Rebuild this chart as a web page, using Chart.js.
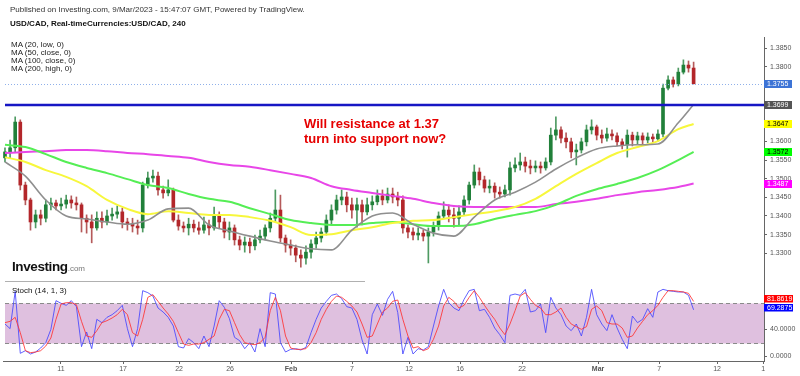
<!DOCTYPE html>
<html><head><meta charset="utf-8">
<script src="https://cdn.jsdelivr.net/npm/chart.js@4.4.0/dist/chart.umd.min.js"></script>
<style>
html,body{margin:0;padding:0;background:#fff;}
#wrap{position:relative;width:800px;height:376px;overflow:hidden;font-family:"Liberation Sans",Arial,sans-serif;}
canvas{position:absolute;left:0;}
#cA{top:0;} #cB{top:282px;}
.t{position:absolute;white-space:nowrap;color:#222;}
</style></head><body>
<div id="wrap">
<canvas id="cA" width="800" height="282"></canvas>
<canvas id="cB" width="800" height="94"></canvas>
<div class="t" style="left:10px;top:6px;font-size:8px;line-height:8px;color:#333;">Published on Investing.com, 9/Mar/2023 - 15:47:07 GMT, Powered by TradingView.</div>
<div class="t" style="left:10px;top:20px;font-size:8px;line-height:8px;font-weight:bold;color:#111;">USD/CAD, Real-timeCurrencies:USD/CAD, 240</div>
<div class="t" style="left:11px;top:41px;font-size:8px;line-height:8px;color:#222;">MA (20, low, 0)<br>MA (50, close, 0)<br>MA (100, close, 0)<br>MA (200, high, 0)</div>
<div class="t" style="left:304px;top:116px;font-size:13px;line-height:15px;font-weight:bold;color:#e60000;">Will resistance at 1.37<br>turn into support now?</div>
<div class="t" style="left:12px;top:260px;font-size:13.5px;line-height:14px;font-weight:bold;color:#111;letter-spacing:-0.4px;">Investing<span style="font-size:8px;font-weight:normal;color:#777;letter-spacing:0;">.com</span></div>
<div class="t" style="left:12px;top:287px;font-size:8px;line-height:8px;color:#111;">Stoch (14, 1, 3)</div>
</div>
<script>
const FONT = '"Liberation Sans", Arial, sans-serif';

const openP = [
1.3556,1.3572,1.3583,1.3652,1.3483,1.3443,1.3384,1.3403,1.3394,1.3430,
1.3435,1.3427,1.3432,1.3443,1.3435,1.3430,1.3394,1.3384,1.3368,1.3394,
1.3384,1.3400,1.3405,1.3411,1.3384,1.3378,1.3373,1.3368,1.3483,1.3502,
1.3507,1.3470,1.3462,1.3470,1.3389,1.3373,1.3368,1.3378,1.3368,1.3362,
1.3376,1.3368,1.3403,1.3384,1.3357,1.3368,1.3336,1.3322,1.3330,1.3320,
1.3336,1.3346,1.3368,1.3394,1.3416,1.3341,1.3322,1.3314,1.3295,1.3287,
1.3303,1.3325,1.3341,1.3357,1.3389,1.3416,1.3443,1.3451,1.3430,1.3416,
1.3430,1.3411,1.3430,1.3438,1.3454,1.3443,1.3459,1.3451,1.3443,1.3368,
1.3357,1.3349,1.3354,1.3346,1.3357,1.3373,1.3400,1.3416,1.3403,1.3394,
1.3411,1.3443,1.3483,1.3518,1.3497,1.3475,1.3480,1.3464,1.3459,1.3470,
1.3529,1.3537,1.3545,1.3534,1.3529,1.3534,1.3529,1.3545,1.3617,1.3631,
1.3609,1.3599,1.3572,1.3577,1.3599,1.3631,1.3639,1.3617,1.3609,1.3620,
1.3615,1.3599,1.3591,1.3617,1.3604,1.3615,1.3604,1.3612,1.3607,1.3620,
1.3743,1.3765,1.3754,1.3786,1.3805,1.3797];
const highP = [
1.3583,1.3604,1.3666,1.3658,1.3491,1.3448,1.3416,1.3416,1.3443,1.3448,
1.3443,1.3448,1.3456,1.3454,1.3451,1.3435,1.3403,1.3403,1.3411,1.3411,
1.3416,1.3421,1.3427,1.3421,1.3394,1.3394,1.3389,1.3491,1.3518,1.3523,
1.3518,1.3480,1.3497,1.3475,1.3403,1.3384,1.3394,1.3389,1.3384,1.3397,
1.3389,1.3424,1.3411,1.3394,1.3384,1.3376,1.3346,1.3344,1.3341,1.3349,
1.3362,1.3376,1.3408,1.3470,1.3456,1.3349,1.3336,1.3322,1.3309,1.3320,
1.3336,1.3357,1.3368,1.3403,1.3430,1.3456,1.3470,1.3464,1.3448,1.3448,
1.3443,1.3448,1.3454,1.3470,1.3470,1.3475,1.3475,1.3464,1.3454,1.3376,
1.3368,1.3368,1.3362,1.3368,1.3384,1.3411,1.3438,1.3430,1.3421,1.3427,
1.3454,1.3491,1.3537,1.3529,1.3507,1.3497,1.3489,1.3478,1.3483,1.3545,
1.3556,1.3569,1.3558,1.3550,1.3548,1.3545,1.3556,1.3636,1.3666,1.3639,
1.3623,1.3609,1.3593,1.3609,1.3644,1.3658,1.3644,1.3631,1.3636,1.3631,
1.3623,1.3607,1.3631,1.3625,1.3625,1.3623,1.3623,1.3620,1.3631,1.3754,
1.3776,1.3773,1.3797,1.3819,1.3816,1.3813];
const lowP = [
1.3545,1.3556,1.3572,1.3470,1.3430,1.3362,1.3368,1.3376,1.3384,1.3416,
1.3416,1.3416,1.3421,1.3421,1.3416,1.3357,1.3354,1.3328,1.3362,1.3368,
1.3376,1.3389,1.3394,1.3368,1.3362,1.3357,1.3351,1.3357,1.3475,1.3491,
1.3456,1.3448,1.3454,1.3384,1.3362,1.3357,1.3349,1.3357,1.3351,1.3354,
1.3349,1.3362,1.3368,1.3341,1.3336,1.3322,1.3309,1.3303,1.3301,1.3309,
1.3328,1.3336,1.3357,1.3384,1.3330,1.3303,1.3295,1.3277,1.3263,1.3271,
1.3287,1.3314,1.3330,1.3349,1.3376,1.3405,1.3430,1.3411,1.3394,1.3370,
1.3376,1.3403,1.3416,1.3430,1.3430,1.3435,1.3435,1.3427,1.3354,1.3341,
1.3336,1.3336,1.3333,1.3274,1.3346,1.3362,1.3394,1.3384,1.3370,1.3376,
1.3403,1.3432,1.3475,1.3483,1.3464,1.3462,1.3448,1.3448,1.3451,1.3456,
1.3518,1.3523,1.3518,1.3513,1.3518,1.3515,1.3523,1.3537,1.3604,1.3596,
1.3583,1.3556,1.3537,1.3569,1.3588,1.3620,1.3604,1.3596,1.3601,1.3604,
1.3588,1.3580,1.3558,1.3588,1.3593,1.3591,1.3596,1.3599,1.3601,1.3612,
1.3738,1.3746,1.3749,1.3781,1.3786,1.3754];
const closeP = [
1.3572,1.3583,1.3652,1.3483,1.3443,1.3384,1.3403,1.3394,1.3430,1.3435,
1.3427,1.3432,1.3443,1.3435,1.3430,1.3394,1.3384,1.3368,1.3394,1.3384,
1.3400,1.3405,1.3411,1.3384,1.3378,1.3373,1.3368,1.3483,1.3502,1.3507,
1.3470,1.3462,1.3470,1.3389,1.3373,1.3368,1.3378,1.3368,1.3362,1.3376,
1.3368,1.3403,1.3384,1.3357,1.3368,1.3336,1.3322,1.3330,1.3320,1.3336,
1.3346,1.3368,1.3394,1.3416,1.3341,1.3322,1.3314,1.3295,1.3287,1.3303,
1.3325,1.3341,1.3357,1.3389,1.3416,1.3443,1.3451,1.3430,1.3416,1.3430,
1.3411,1.3430,1.3438,1.3454,1.3443,1.3459,1.3451,1.3443,1.3368,1.3357,
1.3349,1.3354,1.3346,1.3357,1.3373,1.3400,1.3416,1.3403,1.3394,1.3411,
1.3443,1.3483,1.3518,1.3497,1.3475,1.3480,1.3464,1.3459,1.3470,1.3529,
1.3537,1.3545,1.3534,1.3529,1.3534,1.3529,1.3545,1.3617,1.3631,1.3609,
1.3599,1.3572,1.3577,1.3599,1.3631,1.3639,1.3617,1.3609,1.3620,1.3615,
1.3599,1.3591,1.3617,1.3604,1.3615,1.3604,1.3612,1.3607,1.3620,1.3743,
1.3765,1.3754,1.3786,1.3805,1.3797,1.3755];

// ---- moving averages, sampled at these candle positions ----
const maIdx = [0,4,8,12,16,20,24,28,32,36,40,44,48,52,56,60,64,68,72,76,80,84,88,92,96,100,104,108,112,116,120,124,128,132,135];
const ma20 = [1.3545,1.3507,1.3443,1.3400,1.3392,1.3384,1.3378,1.3389,1.3419,1.3421,1.3376,1.3360,1.3346,1.3333,1.3322,1.3312,1.3309,1.3362,1.3400,1.3408,1.3378,1.3354,1.3346,1.3397,1.3443,1.3464,1.3491,1.3526,1.3556,1.3580,1.3588,1.3591,1.3593,1.3650,1.3699];
const ma50 = [1.3558,1.3545,1.3523,1.3505,1.3480,1.3443,1.3419,1.3405,1.3413,1.3408,1.3403,1.3403,1.3397,1.3387,1.3370,1.3349,1.3351,1.3362,1.3370,1.3381,1.3387,1.3389,1.3397,1.3405,1.3413,1.3424,1.3446,1.3480,1.3513,1.3542,1.3569,1.3585,1.3601,1.3633,1.3647];
const ma100 = [1.3591,1.3585,1.3566,1.3545,1.3529,1.3515,1.3499,1.3483,1.3475,1.3459,1.3446,1.3438,1.3421,1.3405,1.3389,1.3381,1.3376,1.3376,1.3381,1.3384,1.3378,1.3373,1.3373,1.3378,1.3392,1.3403,1.3413,1.3430,1.3454,1.3472,1.3486,1.3502,1.3523,1.3550,1.3572];
const ma200 = [1.3569,1.3572,1.3574,1.3577,1.3577,1.3574,1.3569,1.3566,1.3561,1.3556,1.3545,1.3537,1.3532,1.3523,1.3513,1.3502,1.3480,1.3470,1.3462,1.3454,1.3446,1.3435,1.3427,1.3424,1.3424,1.3424,1.3424,1.3432,1.3438,1.3446,1.3456,1.3464,1.3470,1.3478,1.3487];

// ---- stochastic (14,1,3) ----
const stochK = [
48,41,97,4,8,3,6,12,20,40, 83,79,76,83,74,14,36,11,55,50,
58,62,68,76,41,14,41,98,95,90, 72,66,58,45,14,12,26,20,11,30,
14,45,83,73,56,28,23,11,20,6, 41,14,95,93,20,6,10,11,9,13,
35,55,72,82,91,93,86,74,72,55, 24,3,62,78,61,85,97,65,3,28,
3,11,9,14,45,75,100,80,72,68, 85,98,100,68,70,58,42,32,20,91,
93,91,100,66,68,78,35,88,72,62, 45,38,48,30,58,100,62,48,38,62,
42,25,11,60,50,55,71,58,96,100, 98,97,96,96,91,69.2875];
const stochD = [
50,52,58,35,8,5,6,8,15,27, 55,78,80,80,77,52,30,28,38,50,
53,57,62,70,62,35,30,55,88,92, 82,72,63,52,35,18,16,18,18,20,
25,30,55,70,68,50,32,20,18,17, 20,28,68,88,68,30,12,10,10,11,
20,35,55,70,82,90,88,82,75,66, 48,28,30,48,66,72,82,84,55,30,
12,14,8,11,25,45,75,88,82,72, 76,88,98,88,76,65,55,42,32,48,
68,90,95,85,76,72,62,62,66,72, 58,48,44,40,44,70,75,68,50,48,
48,42,28,30,42,52,62,68,76,88, 98,98,97,96,94,81.8619];

// ---- axes / labels ----
const xTickPos = [10.98,23.14,34.12,44.12,56.08,68.04,79.22,89.22,101.37,116.27,128.24,139.61,148.63];
const xTickLabels = ['11','17','22','26','Feb','7','12','16','22','Mar','7','12','1'];
const monthLabels = ['Feb','Mar'];
const priceTicks = [1.3300,1.3350,1.3400,1.3450,1.3500,1.3550,1.3600,1.3800,1.3850];
const stochTicks = [0,40];
const resistanceLevel = 1.3698;
const lastPrice = 1.3755;
const priceBoxValues = [1.3755,1.3699,1.3647,1.3572,1.3487];
const priceBoxColors = ['#3d74d6','#555555','#ffff00','#00ff00','#ff00ff'];
const priceBoxText = ['#fff','#fff','#000','#000','#fff'];
const stochBoxValues = [81.8619,69.2875];
const stochBoxColors = ['#ff0000','#0000ff'];

const X_MIN = -0.39, X_MAX = 148.8;
const idx = closeP.map((_, i) => i);
const isUp = i => closeP[i] >= openP[i];

function drawBox(ctx, x, y, w, h, bg, fg, text) {
  ctx.fillStyle = bg; ctx.fillRect(x, Math.round(y - h/2), w, h);
  ctx.fillStyle = fg; ctx.font = '7px ' + FONT; ctx.textBaseline = 'middle'; ctx.textAlign = 'left';
  ctx.fillText(text, x + 3, y + 0.5);
}
function noPad(s) { s.paddingTop = 0; s.paddingBottom = 0; s.paddingLeft = 0; s.paddingRight = 0; }

const priceOverlay = {
  id: 'priceOverlay',
  afterDatasetsDraw(chart) {
    const ctx = chart.ctx, y = chart.scales.y, a = chart.chartArea;
    ctx.save();
    ctx.strokeStyle = '#8fb0ea'; ctx.lineWidth = 1; ctx.setLineDash([1, 2]);
    let py = Math.round(y.getPixelForValue(lastPrice)) + 0.5;
    ctx.beginPath(); ctx.moveTo(5, py); ctx.lineTo(a.right, py); ctx.stroke();
    ctx.setLineDash([]);
    ctx.strokeStyle = '#1616c4'; ctx.lineWidth = 2.5;
    py = y.getPixelForValue(resistanceLevel);
    ctx.beginPath(); ctx.moveTo(5, py); ctx.lineTo(a.right, py); ctx.stroke();
    ctx.strokeStyle = '#b0b0b0'; ctx.lineWidth = 1;
    ctx.beginPath(); ctx.moveTo(5, 281.5); ctx.lineTo(365, 281.5); ctx.stroke();
    ctx.restore();
  },
  afterDraw(chart) {
    const ctx = chart.ctx, y = chart.scales.y, a = chart.chartArea;
    ctx.save();
    priceBoxValues.forEach((v, k) => {
      drawBox(ctx, a.right, y.getPixelForValue(v), 28, 8, priceBoxColors[k], priceBoxText[k], v.toFixed(4));
    });
    ctx.restore();
  }
};

const stochOverlay = {
  id: 'stochOverlay',
  beforeDatasetsDraw(chart) {
    const ctx = chart.ctx, y = chart.scales.y, a = chart.chartArea;
    const y80 = Math.round(y.getPixelForValue(80)) + 0.5, y20 = Math.round(y.getPixelForValue(20)) + 0.5;
    ctx.save();
    ctx.fillStyle = '#dfc0df';
    ctx.fillRect(5, y80, a.right - 5, y20 - y80);
    ctx.strokeStyle = '#8a8a8a'; ctx.lineWidth = 1; ctx.setLineDash([4, 3]);
    [y80, y20].forEach(py => { ctx.beginPath(); ctx.moveTo(5, py); ctx.lineTo(a.right, py); ctx.stroke(); });
    ctx.restore();
  },
  afterDraw(chart) {
    const ctx = chart.ctx, y = chart.scales.y, a = chart.chartArea;
    ctx.save();
    stochBoxValues.forEach((v, k) => drawBox(ctx, a.right, y.getPixelForValue(v) - 2.5, 29, 7.5, stochBoxColors[k], '#fff', v.toFixed(4)));
    ctx.restore();
  }
};

const axisCommon = {
  position: 'right',
  afterFit(s) { s.width = 36; noPad(s); },
  grid: { drawOnChartArea: false, tickLength: 3, color: '#666' },
  border: { color: '#666' },
};

new Chart(document.getElementById('cA'), {
  type: 'bar',
  data: { datasets: [
    { type: 'line', data: maIdx.map((x, k) => ({x, y: ma20[k]})), borderColor: '#8f8f8f', borderWidth: 1.6, pointRadius: 0, cubicInterpolationMode: 'monotone', order: 1 },
    { type: 'line', data: maIdx.map((x, k) => ({x, y: ma50[k]})), borderColor: '#f7f73c', borderWidth: 2, pointRadius: 0, cubicInterpolationMode: 'monotone', order: 2 },
    { type: 'line', data: maIdx.map((x, k) => ({x, y: ma100[k]})), borderColor: '#55ee55', borderWidth: 2, pointRadius: 0, cubicInterpolationMode: 'monotone', order: 3 },
    { type: 'line', data: maIdx.map((x, k) => ({x, y: ma200[k]})), borderColor: '#e846e8', borderWidth: 2, pointRadius: 0, cubicInterpolationMode: 'monotone', order: 4 },
    { type: 'bar', data: idx.map(i => ({x: i, y: [openP[i], closeP[i]]})), backgroundColor: idx.map(i => isUp(i) ? '#21803a' : '#b3262a'), barThickness: 3, grouped: false, minBarLength: 1, order: 5 },
    { type: 'bar', data: idx.map(i => ({x: i, y: [lowP[i], highP[i]]})), backgroundColor: idx.map(i => isUp(i) ? '#4e9a62' : '#b55a5a'), barThickness: 1, grouped: false, order: 6 },
  ]},
  options: {
    responsive: false, animation: false, devicePixelRatio: 1,
    layout: { padding: { left: 3, top: 37, right: 0, bottom: 0 } },
    plugins: { legend: { display: false }, tooltip: { enabled: false } },
    scales: {
      x: { type: 'linear', min: X_MIN, max: X_MAX, offset: false, display: false },
      y: Object.assign({}, axisCommon, {
        min: 1.32229, max: 1.38803,
        afterBuildTicks(s) { s.ticks = priceTicks.map(v => ({value: v})); },
        ticks: { callback: v => Number(v).toFixed(4), font: { size: 7, family: FONT }, color: '#555', padding: 3 },
      }),
    },
  },
  plugins: [priceOverlay],
});

new Chart(document.getElementById('cB'), {
  type: 'line',
  data: { datasets: [
    { data: idx.map(i => ({x: i, y: stochK[i]})), borderColor: 'rgba(70,70,255,0.85)', borderWidth: 1, pointRadius: 0, order: 2 },
    { data: idx.map(i => ({x: i, y: stochD[i]})), borderColor: 'rgba(255,50,50,0.85)', borderWidth: 1, pointRadius: 0, order: 1 },
  ]},
  options: {
    responsive: false, animation: false, devicePixelRatio: 1,
    layout: { padding: { left: 3, top: 0, right: 0, bottom: 0 } },
    plugins: { legend: { display: false }, tooltip: { enabled: false } },
    scales: {
      x: {
        type: 'linear', min: X_MIN, max: X_MAX, offset: false,
        afterFit(s) { s.height = 15; noPad(s); },
        afterBuildTicks(s) { s.ticks = xTickPos.map(v => ({value: v})); },
        ticks: {
          autoSkip: false, maxRotation: 0, padding: 1, color: '#555',
          callback: (v, i) => xTickLabels[i],
          font: ctx => ({ size: 7, family: FONT, weight: monthLabels.includes(xTickLabels[ctx.index]) ? 'bold' : 'normal' }),
        },
        grid: { drawOnChartArea: false, tickLength: 3, color: '#666' },
        border: { color: '#666' },
      },
      y: Object.assign({}, axisCommon, {
        min: -7.5, max: 111,
        afterBuildTicks(s) { s.ticks = stochTicks.map(v => ({value: v})); },
        ticks: { callback: v => Number(v).toFixed(4), font: { size: 7, family: FONT }, color: '#555', padding: 3 },
      }),
    },
  },
  plugins: [stochOverlay],
});
</script>
</body></html>
